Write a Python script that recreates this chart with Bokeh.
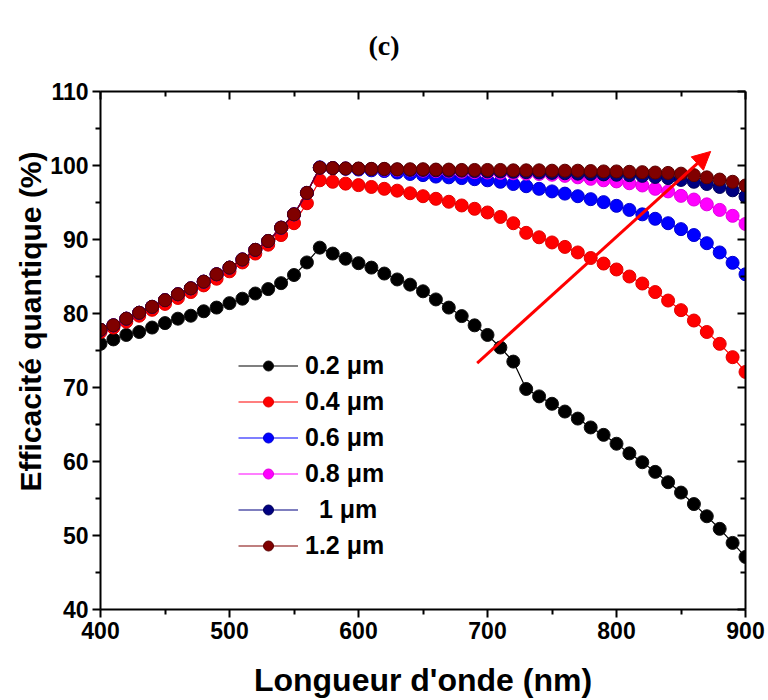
from bokeh.plotting import figure
from bokeh.models import (LinearAxis, Range1d, Legend, LegendItem, Arrow, NormalHead,
                          Title, FixedTicker, CustomJSTickFormatter)
from bokeh.embed import file_html
from bokeh.resources import INLINE

# ---------------- data ----------------
wavelength = [400, 410, 420, 430, 440, 450, 460, 470, 480, 490,
              500, 510, 520, 530, 540, 550, 560, 570, 580, 590,
              600, 610, 620, 630, 640, 650, 660, 670, 680, 690,
              700, 710, 720, 730, 740, 750, 760, 770, 780, 790,
              800, 810, 820, 830, 840, 850, 860, 870, 880, 890, 900]

eqe_02 = [75.9, 76.5, 77.1, 77.5, 78.1, 78.7, 79.3, 79.7, 80.3, 80.8,
          81.4, 82.0, 82.7, 83.3, 84.1, 85.2, 86.9, 88.9, 88.1, 87.4,
          86.8, 86.2, 85.4, 84.6, 83.9, 83.0, 81.9, 80.8, 79.65, 78.4,
          77.1, 75.4, 73.5, 69.8, 68.8, 67.8, 66.75, 65.8, 64.6, 63.6,
          62.4, 61.1, 59.9, 58.6, 57.2, 55.8, 54.25, 52.6, 50.9, 49.0, 47.1]

eqe_04 = [77.5, 78.1, 78.9, 79.7, 80.5, 81.3, 82.1, 82.9, 83.8, 84.7,
          85.7, 86.9, 88.1, 89.3, 90.6, 92.2, 94.9, 98.0, 97.8, 97.55,
          97.35, 97.1, 96.85, 96.6, 96.25, 95.85, 95.5, 95.1, 94.6, 94.15,
          93.65, 93.05, 92.2, 90.9, 90.3, 89.6, 89.0, 88.25, 87.5, 86.75,
          85.95, 85.0, 84.05, 82.9, 81.75, 80.45, 79.05, 77.5, 75.9, 74.1, 72.1]

eqe_06 = [77.8, 78.4, 79.3, 80.1, 80.9, 81.8, 82.6, 83.4, 84.3, 85.3,
          86.2, 87.3, 88.6, 89.8, 91.6, 93.4, 96.3, 99.75, 99.65, 99.55,
          99.45, 99.35, 99.25, 99.05, 98.85, 98.7, 98.5, 98.4, 98.3, 98.15,
          98.0, 97.8, 97.5, 97.2, 96.85, 96.5, 96.2, 95.85, 95.45, 95.05,
          94.55, 94.0, 93.4, 92.8, 92.2, 91.4, 90.6, 89.5, 88.25, 86.85, 85.3]

eqe_08 = [77.8, 78.4, 79.3, 80.1, 80.9, 81.8, 82.6, 83.4, 84.3, 85.3,
          86.2, 87.3, 88.6, 89.8, 91.6, 93.4, 96.3, 99.7, 99.65, 99.6,
          99.55, 99.5, 99.45, 99.4, 99.35, 99.3, 99.25, 99.2, 99.15, 99.1,
          99.05, 99.0, 98.95, 98.9, 98.85, 98.75, 98.6, 98.4, 98.2, 98.0,
          97.85, 97.6, 97.3, 96.85, 96.5, 95.9, 95.4, 94.75, 94.0, 93.2, 92.1]

eqe_10 = [77.8, 78.4, 79.3, 80.1, 80.9, 81.8, 82.6, 83.4, 84.3, 85.3,
          86.2, 87.3, 88.6, 89.8, 91.6, 93.4, 96.3, 99.7, 99.65, 99.6,
          99.55, 99.5, 99.5, 99.45, 99.4, 99.4, 99.35, 99.3, 99.3, 99.25,
          99.2, 99.2, 99.15, 99.1, 99.05, 99.0, 98.95, 98.9, 98.85, 98.8,
          98.75, 98.7, 98.6, 98.45, 98.3, 98.05, 97.8, 97.5, 97.1, 96.65, 95.8]

eqe_12 = [77.8, 78.4, 79.3, 80.1, 80.9, 81.8, 82.6, 83.4, 84.3, 85.3,
          86.2, 87.3, 88.6, 89.8, 91.6, 93.4, 96.3, 99.7, 99.65, 99.6,
          99.6, 99.55, 99.55, 99.5, 99.5, 99.5, 99.45, 99.45, 99.4, 99.4,
          99.4, 99.4, 99.35, 99.35, 99.35, 99.3, 99.3, 99.3, 99.25, 99.2,
          99.2, 99.15, 99.1, 99.05, 99.0, 98.9, 98.7, 98.4, 98.1, 97.8, 97.3]

series_labels = ["0.2 \u03bcm", "0.4 \u03bcm", "0.6 \u03bcm", "0.8 \u03bcm",
                 "\u00a0\u00a01 \u03bcm", "1.2 \u03bcm"]
series_values = [eqe_02, eqe_04, eqe_06, eqe_08, eqe_10, eqe_12]
series_colors = ["#000000", "#ff0000", "#0000ff", "#ff00ff", "#000080", "#800000"]
series_edges = ["#111111", "#e00000", "#0000d0", "#e000e0", "#00005a", "#5a0000"]

x_ticks = [400, 500, 600, 700, 800, 900]
x_minor = [450, 550, 650, 750, 850]
y_ticks = [40, 50, 60, 70, 80, 90, 100, 110]
y_minor = [45, 55, 65, 75, 85, 95, 105]

# trend arrow (start -> end, data coords)
arrow_x = [692, 873]
arrow_y = [73.3, 101.9]

# ---------------- figure ----------------
p = figure(width=768, height=700, x_range=Range1d(400, 900), y_range=Range1d(40, 110),
           output_backend="svg", toolbar_location=None,
           min_border_left=100, min_border_right=23, min_border_top=91, min_border_bottom=90)
p.grid.visible = False
p.outline_line_color = None
p.background_fill_color = "white"

FONT = "Liberation Sans"

def style_axis(ax, outward=True):
    ax.axis_line_width = 2
    ax.axis_line_color = "black"
    ax.major_tick_line_width = 2
    ax.minor_tick_line_width = 2
    ax.major_tick_line_color = "black"
    ax.minor_tick_line_color = "black"
    if outward:
        ax.major_tick_out, ax.major_tick_in = 8, 0
        ax.minor_tick_out, ax.minor_tick_in = 5, 0
    else:
        ax.major_tick_out, ax.major_tick_in = 0, 8
        ax.minor_tick_out, ax.minor_tick_in = 0, 5
    ax.major_label_text_font = FONT
    ax.major_label_text_font_style = "bold"
    ax.major_label_text_font_size = "23px"
    ax.major_label_text_color = "black"
    ax.axis_label_text_color = "black"

xt = FixedTicker(ticks=x_ticks, minor_ticks=x_minor)
yt = FixedTicker(ticks=y_ticks, minor_ticks=y_minor)

xa = p.xaxis[0]
xa.ticker = xt
style_axis(xa)
xa.major_label_standoff = 4
xa.axis_label = "Longueur d'onde (nm)"
xa.axis_label_text_font = FONT
xa.axis_label_text_font_style = "bold"
xa.axis_label_text_font_size = "32px"
xa.axis_label_standoff = 20

ya = p.yaxis[0]
ya.ticker = yt
style_axis(ya)
ya.major_label_standoff = 4

blank = CustomJSTickFormatter(code="return '';")
top = LinearAxis(ticker=FixedTicker(ticks=x_ticks, minor_ticks=x_minor), formatter=blank)
style_axis(top, outward=False)
p.add_layout(top, "above")
right = LinearAxis(ticker=FixedTicker(ticks=y_ticks, minor_ticks=y_minor), formatter=blank)
style_axis(right, outward=False)
p.add_layout(right, "right")

items = []
for lab, vals, col, edge in zip(series_labels, series_values, series_colors, series_edges):
    l = p.line(wavelength, vals, line_color=col, line_width=1.2)
    s = p.scatter(wavelength, vals, size=13, fill_color=col, line_color=edge, line_width=1)
    items.append(LegendItem(label=lab, renderers=[l, s]))

legend = Legend(items=items, location=(138, 49), label_text_font=FONT,
                label_text_font_style="bold", label_text_font_size="25px",
                label_text_color="black",
                glyph_width=60, glyph_height=25, label_height=30, spacing=6,
                padding=0, margin=0, border_line_alpha=0, background_fill_alpha=0,
                label_standoff=7)
p.add_layout(legend)

p.add_layout(Arrow(end=NormalHead(size=18, fill_color="#ff0000", line_color="#ff0000", line_width=1),
                   x_start=arrow_x[0], y_start=arrow_y[0], x_end=arrow_x[1], y_end=arrow_y[1],
                   line_color="#ff0000", line_width=3))

# y-axis title as a left-side title so that it can be shifted along the axis
ytitle = Title(text="Efficacit\u00e9 quantique (%)", align="left", offset=118, standoff=2,
               text_font=FONT, text_font_style="bold", text_font_size="30px",
               text_color="black")
p.add_layout(ytitle, "left")

title = Title(text="(c)", align="left", offset=268, standoff=57, vertical_align="top",
              text_font="Liberation Serif", text_font_style="bold",
              text_font_size="28px", text_color="black")
p.add_layout(title, "above")

open("out.html", "w").write(file_html(p, INLINE))
